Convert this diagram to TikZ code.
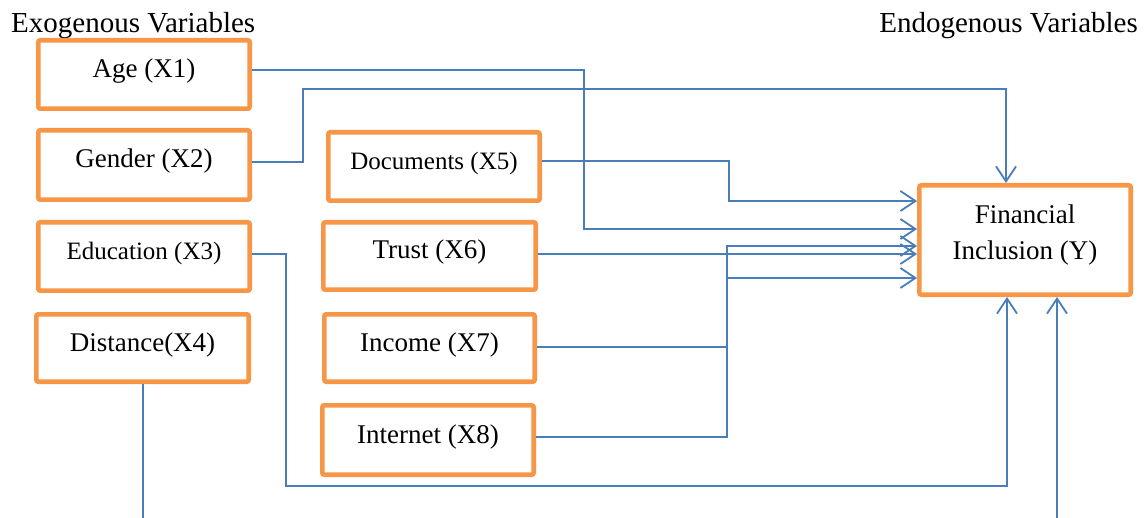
\documentclass[tikz,border=0pt]{standalone}
\usepackage{fontspec}
\setmainfont{Liberation Serif}
\usetikzlibrary{arrows.meta}
\definecolor{boxorange}{RGB}{247,150,70}
\definecolor{linkblue}{RGB}{74,126,187}
\tikzset{
  varbox/.style={draw=boxorange, line width=4.6pt, rounded corners=2pt, fill=white,
    inner sep=0pt, text height=18pt, text depth=12pt,
    font=\fontsize{27}{32}\selectfont},
  smalltext/.style={font=\fontsize{25}{30}\selectfont},
  heading/.style={inner sep=0pt, font=\fontsize{29}{34}\selectfont},
  link/.style={draw=linkblue, line width=1.8pt},
  linkarrow/.style={link, -{Straight Barb[length=15pt,width=20pt]}},
}
\begin{document}
\begin{tikzpicture}[x=1pt,y=-1pt]
\useasboundingbox (0,0) rectangle (1147,518);

% headings
\node[heading, anchor=base west] (exo) at (11,33) {Exogenous Variables};
\node[heading, anchor=base east] (endo) at (1138,33) {Endogenous Variables};

% exogenous variables, left column
\node[varbox, minimum width=211.4pt, minimum height=68.4pt] (age) at (144,74.5) {Age (X1)};
\node[varbox, minimum width=211.4pt, minimum height=69.4pt] (gender) at (144,165) {Gender (X2)};
\node[varbox, smalltext, minimum width=211.4pt, minimum height=68.4pt] (edu) at (144,256.5) {Education (X3)};
\node[varbox, minimum width=212.4pt, minimum height=67.4pt] (dist) at (142.5,348) {Distance(X4)};

% exogenous variables, middle column
\node[varbox, smalltext, minimum width=211.4pt, minimum height=68.4pt] (doc) at (434,166.5) {Documents (X5)};
\node[varbox, minimum width=212.4pt, minimum height=67.4pt] (trust) at (429.5,256) {Trust (X6)};
\node[varbox, minimum width=210.4pt, minimum height=67.4pt] (income) at (429.5,348) {Income (X7)};
\node[varbox, minimum width=211.4pt, minimum height=69.4pt] (internet) at (428,440) {Internet (X8)};

% endogenous variable
\node[varbox, minimum width=211.4pt, minimum height=109.4pt, align=center,
      font=\fontsize{27}{36}\selectfont, text height=, text depth=]
  (fi) at (1025,240) {Financial\\Inclusion (Y)\rule[-16pt]{0pt}{0pt}};

% free ends at the lower edge
\coordinate (distend) at (143,518);
\coordinate (lowstart) at (1057,518);

% connectors
\draw[linkarrow] (age.east |- 0,70) -| (584,229) -- (fi.west |- 0,229);
\draw[linkarrow] (gender.east |- 0,162) -| (303,89) -| (fi.north -| 1006,0);
\draw[linkarrow] (edu.east |- 0,254) -| (286,486) -| (fi.south -| 1007,0);
\draw[link] (dist.south -| 143,0) -- (distend);
\draw[linkarrow] (lowstart) -- (fi.south -| 1057,0);
\draw[linkarrow] (doc.east |- 0,161) -| (729,201) -- (fi.west |- 0,201);
\draw[linkarrow] (trust.east |- 0,254) -- (fi.west |- 0,254);
\draw[linkarrow] (income.east |- 0,347) -| (727,246) -- (fi.west |- 0,246);
\draw[linkarrow] (internet.east |- 0,437) -| (727,278) -- (fi.west |- 0,278);
\end{tikzpicture}
\end{document}
